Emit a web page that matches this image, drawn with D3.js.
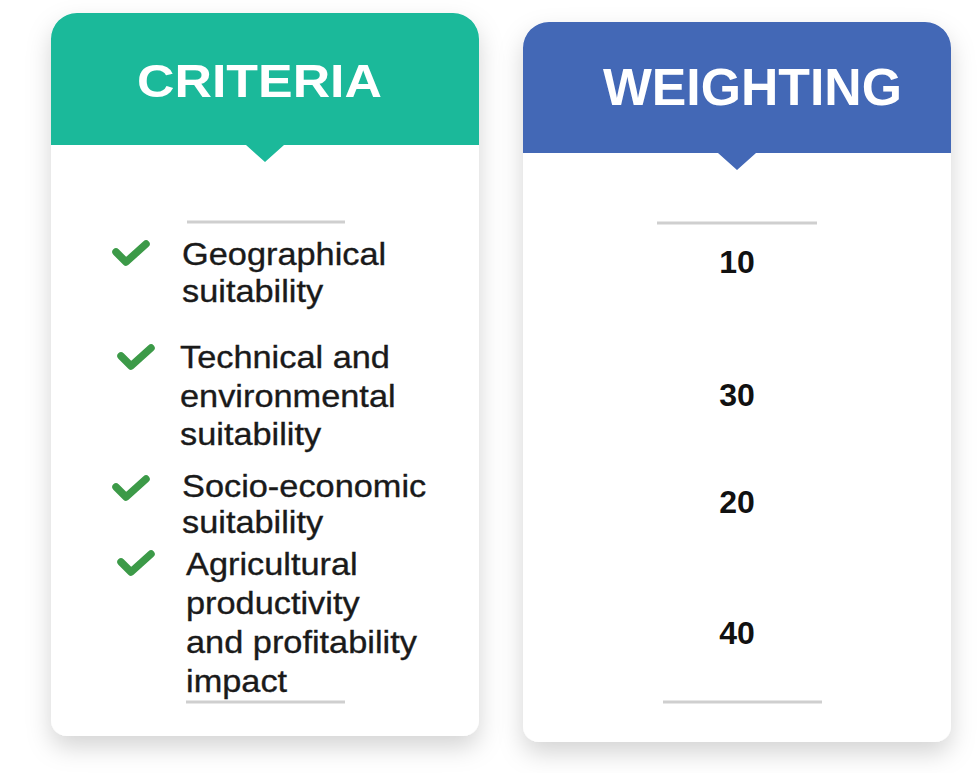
<!DOCTYPE html>
<html>
<head>
<meta charset="utf-8">
<script src="https://cdn.jsdelivr.net/npm/d3@7"></script>
<style>
  html, body { margin: 0; padding: 0; background: #ffffff; }
  svg { display: block; }
</style>
</head>
<body>
<div id="chart"></div>
<script>
// ---- data ----
const titles = ["CRITERIA", "WEIGHTING"];
const criteria = [
  ["Geographical", "suitability"],
  ["Technical and", "environmental", "suitability"],
  ["Socio-economic", "suitability"],
  ["Agricultural", "productivity", "and profitability", "impact"]
];
const weights = [10, 30, 20, 40];

// ---- layout ----
const W = 978, H = 773;
const svg = d3.select("#chart").append("svg").attr("width", W).attr("height", H);

const defs = svg.append("defs");
const f = defs.append("filter").attr("id", "shadow")
  .attr("x", "-20%").attr("y", "-20%").attr("width", "140%").attr("height", "140%");
f.append("feDropShadow").attr("dx", 0).attr("dy", 11).attr("stdDeviation", 12)
  .attr("flood-color", "#000").attr("flood-opacity", 0.17);

const cards = [
  { x0: 51, x1: 479, top: 13, hb: 145, bottom: 736, tipX: 265, tipY: 162, color: "#1bb99a",
    title: titles[0], tx: 137, tlen: 245, tbase: 97, tsize: 47 },
  { x0: 523, x1: 951, top: 22, hb: 153, bottom: 742, tipX: 737, tipY: 170, color: "#4368b6",
    title: titles[1], tx: 603, tlen: 299, tbase: 105, tsize: 51 }
];

function cardPath(c, rt, rb) {
  const p = d3.path();
  p.moveTo(c.x0 + rt, c.top);
  p.lineTo(c.x1 - rt, c.top);
  p.arcTo(c.x1, c.top, c.x1, c.top + rt, rt);
  p.lineTo(c.x1, c.bottom - rb);
  p.arcTo(c.x1, c.bottom, c.x1 - rb, c.bottom, rb);
  p.lineTo(c.x0 + rb, c.bottom);
  p.arcTo(c.x0, c.bottom, c.x0, c.bottom - rb, rb);
  p.lineTo(c.x0, c.top + rt);
  p.arcTo(c.x0, c.top, c.x0 + rt, c.top, rt);
  p.closePath();
  return p.toString();
}
function headerPath(c, rt) {
  const p = d3.path();
  p.moveTo(c.x0 + rt, c.top);
  p.lineTo(c.x1 - rt, c.top);
  p.arcTo(c.x1, c.top, c.x1, c.top + rt, rt);
  p.lineTo(c.x1, c.hb);
  p.lineTo(c.tipX + 19, c.hb);
  p.lineTo(c.tipX, c.tipY);
  p.lineTo(c.tipX - 19, c.hb);
  p.lineTo(c.x0, c.hb);
  p.lineTo(c.x0, c.top + rt);
  p.arcTo(c.x0, c.top, c.x0 + rt, c.top, rt);
  p.closePath();
  return p.toString();
}

const g = svg.selectAll("g.card").data(cards).enter().append("g").attr("class", "card");
g.append("path").attr("d", d => cardPath(d, 26, 16)).attr("fill", "#ffffff").attr("filter", "url(#shadow)");
g.append("path").attr("d", d => headerPath(d, 26)).attr("fill", d => d.color);
g.append("text")
  .attr("x", d => d.tx).attr("y", d => d.tbase)
  .attr("textLength", d => d.tlen).attr("lengthAdjust", "spacingAndGlyphs")
  .attr("font-family", "Liberation Sans, Arial, sans-serif")
  .attr("font-weight", "bold").attr("font-size", d => d.tsize)
  .attr("fill", "#ffffff").text(d => d.title);

// separator lines
const sepLines = [
  { x1: 187, x2: 345, y: 222 }, { x1: 186, x2: 345, y: 702 },
  { x1: 657, x2: 817, y: 223 }, { x1: 663, x2: 822, y: 702 }
];
svg.selectAll("line.sep").data(sepLines).enter().append("line")
  .attr("class", "sep")
  .attr("x1", d => d.x1).attr("x2", d => d.x2).attr("y1", d => d.y).attr("y2", d => d.y)
  .attr("stroke", "#cfcfcf").attr("stroke-width", 3);

// criteria rows
const rowBase = [265, 368, 497, 575];   // first-line baseline of each item
const rowLH = [37, 38.5, 36, 39];       // line heights
const textX = [182, 180, 182, 186];
const checkX = [112, 117, 112, 117];
const checkY = [240, 344, 475, 550];

const rows = svg.selectAll("g.row").data(criteria).enter().append("g").attr("class", "row");

rows.append("path")
  .attr("d", (d, i) => {
    const x = checkX[i], y = checkY[i];
    return `M${x + 4},${y + 12} L${x + 14},${y + 22} L${x + 34},${y + 4}`;
  })
  .attr("fill", "none").attr("stroke", "#3c9a48").attr("stroke-width", 7.5)
  .attr("stroke-linecap", "round").attr("stroke-linejoin", "round");

rows.each(function (d, i) {
  const sel = d3.select(this);
  d.forEach((line, j) => {
    const y = rowBase[i] + j * rowLH[i];
    sel.append("text")
      .attr("transform", `translate(${textX[i]},${y}) scale(1.09,1)`)
      .attr("font-family", "Liberation Sans, Arial, sans-serif")
      .attr("font-size", 31.5).attr("fill", "#1a1a1a")
      .attr("stroke", "#1a1a1a").attr("stroke-width", 0.35)
      .text(line);
  });
});

// weights
const weightY = [273, 406, 513, 644];
svg.selectAll("text.weight").data(weights).enter().append("text")
  .attr("class", "weight")
  .attr("x", 737).attr("y", (d, i) => weightY[i])
  .attr("text-anchor", "middle")
  .attr("font-family", "Liberation Sans, Arial, sans-serif")
  .attr("font-weight", "bold").attr("font-size", 32).attr("fill", "#111")
  .text(d => d);
</script>
</body>
</html>
